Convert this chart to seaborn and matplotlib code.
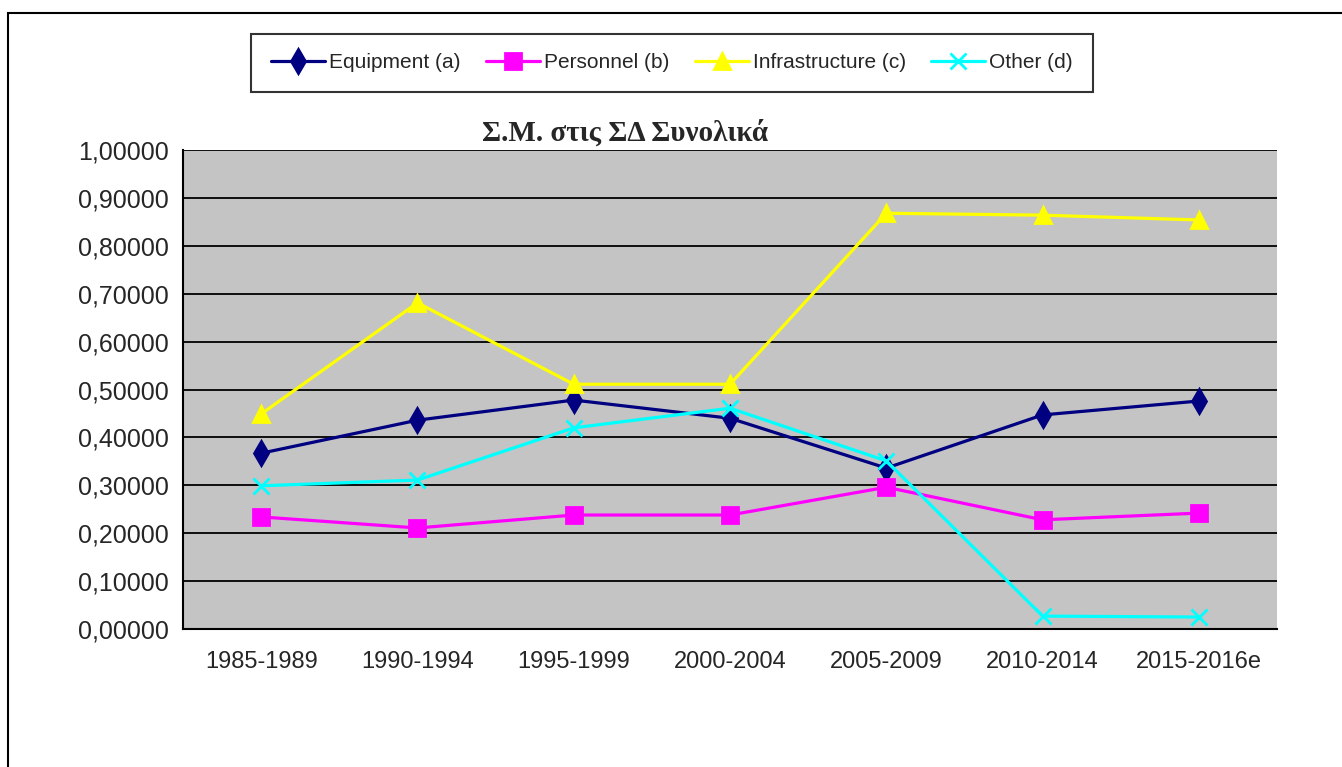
import matplotlib
matplotlib.use("Agg")
import matplotlib.pyplot as plt
from matplotlib.patches import Rectangle
from matplotlib.ticker import FuncFormatter, FixedLocator
import pandas as pd
import seaborn as sns

periods = ["1985-1989", "1990-1994", "1995-1999", "2000-2004",
           "2005-2009", "2010-2014", "2015-2016e"]
equipment = [0.367, 0.436, 0.478, 0.440, 0.336, 0.447, 0.476]
personnel = [0.234, 0.211, 0.238, 0.238, 0.296, 0.228, 0.242]
infrastructure = [0.449, 0.681, 0.511, 0.511, 0.868, 0.864, 0.854]
other = [0.299, 0.311, 0.420, 0.461, 0.351, 0.027, 0.025]
series_names = ["Equipment (a)", "Personnel (b)", "Infrastructure (c)", "Other (d)"]
colors = ["#000080", "#FF00FF", "#FFFF00", "#00FFFF"]
marker_list = ["d", "s", "^", "x"]

df = pd.concat([
    pd.DataFrame({"period": periods, "value": vals, "series": name})
    for name, vals in zip(series_names, [equipment, personnel, infrastructure, other])
])

sns.set_style("white")
plt.rcParams["font.family"] = ["Liberation Sans Narrow", "Liberation Sans", "DejaVu Sans"]

fig = plt.figure(figsize=(13.42, 7.67), dpi=100)
ax = fig.add_axes([0.1364, 0.1799, 0.8152, 0.6245])
ax.set_facecolor("#c4c4c4")

for name, col, mk in zip(series_names, colors, marker_list):
    sub = df[df["series"] == name]
    sns.lineplot(data=sub, x="period", y="value", color=col, marker=mk,
                 sort=False, linewidth=2.3, markersize=12, markeredgewidth=2,
                 markeredgecolor=col, label=name, ax=ax)

ax.set_xlim(-0.5, 6.5)
ax.set_ylim(0, 1.0)
ax.set_yticks([i / 10 for i in range(11)])
ax.yaxis.set_major_formatter(FuncFormatter(lambda v, p: f"{v:.5f}".replace(".", ",")))
ax.yaxis.grid(True, color="black", linewidth=1.3)
ax.set_axisbelow(True)
ax.xaxis.set_minor_locator(FixedLocator([i - 0.5 for i in range(8)]))
ax.tick_params(axis="x", which="major", length=0, pad=16, labelsize=17)
ax.tick_params(axis="x", which="minor", length=9, width=1.2, color="black", direction="out")
ax.tick_params(axis="y", length=7, width=1.2, color="black", direction="out",
               labelsize=18, pad=3)
ax.set_xlabel("")
ax.set_ylabel("")
for s in ["top", "right"]:
    ax.spines[s].set_visible(False)
for s in ["left", "bottom"]:
    ax.spines[s].set_color("black")
    ax.spines[s].set_linewidth(1.5)

handles, labels = ax.get_legend_handles_labels()
ax.legend_.remove()
leg = fig.legend(handles, labels, ncol=4, loc="center", bbox_to_anchor=(0.5007, 0.918),
                 frameon=True, fancybox=False, edgecolor="black", fontsize=15,
                 handlelength=2.6, handletextpad=0.2, columnspacing=1.2,
                 borderpad=0.95)
leg.get_frame().set_linewidth(1.5)

fig.text(0.466, 0.827, "Σ.Μ. στις ΣΔ Συνολικά", ha="center", va="center",
         fontsize=21, fontweight="bold", family=["Liberation Serif", "DejaVu Serif"])

fig.patches.append(Rectangle((8 / 1342, -0.1), 1.2, 1 - 13 / 767 + 0.1,
                             transform=fig.transFigure, fill=False,
                             edgecolor="black", linewidth=1.5))

fig.savefig("out.png", dpi=100)
